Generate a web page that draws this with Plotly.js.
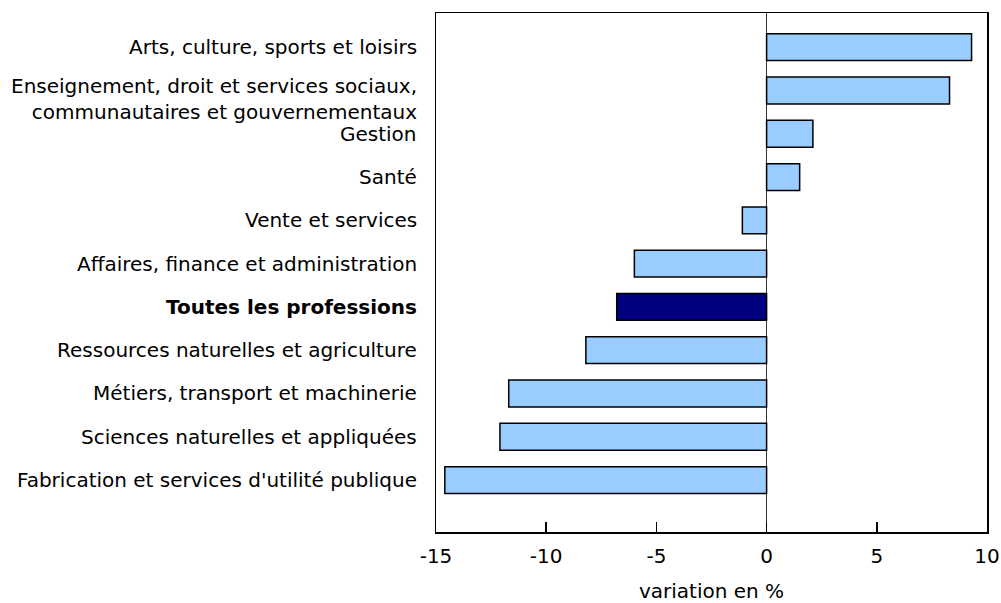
<!DOCTYPE html>
<html>
<head>
<meta charset="utf-8">
<script src="https://cdn.plot.ly/plotly-3.0.1.min.js"></script>
<style>html,body{margin:0;padding:0;background:#fff;}#chart{width:1001px;height:603px;}</style>
</head>
<body>
<div id="chart"></div>
<script>
// Categories listed bottom to top
const categories = [
  "Fabrication et services d'utilité publique",
  "Sciences naturelles et appliquées",
  "Métiers, transport et machinerie",
  "Ressources naturelles et agriculture",
  "<b>Toutes les professions</b>",
  "Affaires, finance et administration",
  "Vente et services",
  "Santé",
  "Gestion",
  "Enseignement, droit et services sociaux,<br>communautaires et gouvernementaux",
  "Arts, culture, sports et loisirs"
];
const values = [-14.6, -12.1, -11.7, -8.2, -6.8, -6.0, -1.1, 1.5, 2.1, 8.3, 9.3];
const highlight = "<b>Toutes les professions</b>";
const xTicks = [-15, -10, -5, 0, 5, 10];
const xTitle = "variation en %";

const colors = categories.map(c => c === highlight ? "#000080" : "#99CCFF");

const trace = {
  type: "bar",
  orientation: "h",
  y: categories,
  x: values,
  marker: { color: colors, line: { color: "#000000", width: 1.5 } },
  width: 0.62,
  hoverinfo: "x+y"
};

// Category labels drawn as annotations at each category position
const labelAnnotations = categories.map(c => ({
  xref: "paper",
  yref: "y",
  x: 0,
  y: c,
  text: c,
  showarrow: false,
  xanchor: "right",
  yanchor: "middle",
  align: "right",
  xshift: -17,
  yshift: c.indexOf("<br>") >= 0 ? -9 : 0,
  font: { size: 20, color: "#000000" }
}));

const layout = {
  width: 1001,
  height: 603,
  margin: { l: 436, r: 14, t: 13, b: 71 },
  paper_bgcolor: "#ffffff",
  plot_bgcolor: "#ffffff",
  font: { family: "DejaVu Sans, Verdana, sans-serif", size: 20, color: "#000000" },
  showlegend: false,
  annotations: labelAnnotations,
  xaxis: {
    range: [-15, 10],
    tickvals: xTicks,
    ticktext: xTicks.map(String),
    ticks: "inside",
    ticklen: 10,
    tickwidth: 1.5,
    tickcolor: "#000000",
    showgrid: false,
    zeroline: true,
    zerolinecolor: "#333333",
    zerolinewidth: 1.5,
    showline: true,
    linecolor: "#000000",
    linewidth: 1.5,
    mirror: true,
    tickfont: { size: 20 },
    ticklabelstandoff: 5,
    title: { text: xTitle, font: { size: 20 }, standoff: 27 }
  },
  yaxis: {
    type: "category",
    categoryorder: "array",
    categoryarray: categories,
    range: [-1.2, 10.79],
    showgrid: false,
    zeroline: false,
    showline: true,
    linecolor: "#000000",
    linewidth: 1.5,
    mirror: true,
    ticks: "",
    showticklabels: false
  }
};

Plotly.newPlot("chart", [trace], layout, { displayModeBar: false, staticPlot: true });
</script>
</body>
</html>
